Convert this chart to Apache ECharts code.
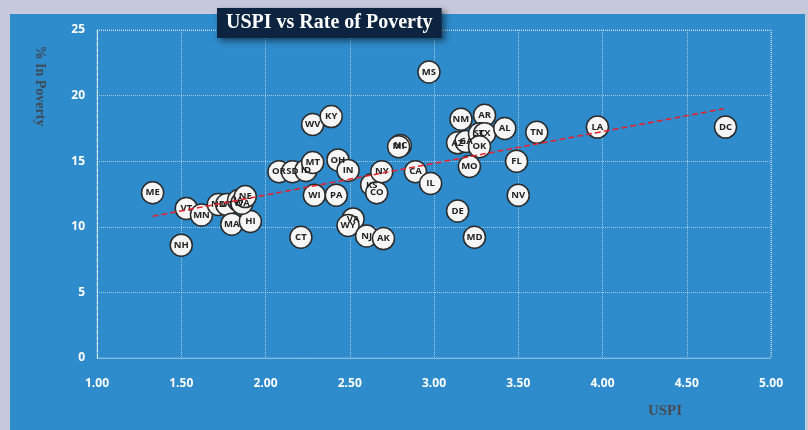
<!DOCTYPE html>
<html>
<head>
<meta charset="utf-8">
<script src="https://cdn.jsdelivr.net/npm/echarts@6/dist/echarts.min.js"></script>
<style>
  html, body { margin: 0; padding: 0; background: #c6c9db; }
  #chart { width: 808px; height: 430px; }
</style>
</head>
<body>
<div id="chart"></div>
<script>
const states  = ['ME', 'VT', 'NH', 'MN', 'ND', 'UT', 'MA', 'HI', 'IA', 'WA', 'NE',
  'OR', 'SD', 'ID', 'MT', 'WV', 'KY', 'OH', 'IN', 'WI', 'PA', 'CT', 'VA', 'WY',
  'NJ', 'AK', 'KS', 'CO', 'NY', 'NC', 'MI', 'CA', 'IL', 'MS', 'NM', 'AR', 'AZ',
  'GA', 'SC', 'TX', 'OK', 'AL', 'TN', 'MO', 'FL', 'NV', 'DE', 'MD', 'LA', 'DC'];
const uspi    = [1.33, 1.53, 1.50, 1.62, 1.72, 1.77, 1.80, 1.91, 1.84, 1.86, 1.88,
  2.08, 2.16, 2.24, 2.28, 2.28, 2.39, 2.43, 2.49, 2.29, 2.42, 2.21, 2.52, 2.49,
  2.60, 2.70, 2.63, 2.66, 2.69, 2.80, 2.79, 2.89, 2.98, 2.97, 3.16, 3.30, 3.14,
  3.19, 3.27, 3.30, 3.27, 3.42, 3.61, 3.21, 3.49, 3.50, 3.14, 3.24, 3.97, 4.73];
const poverty = [12.6, 11.4, 8.6, 10.9, 11.7, 11.7, 10.2, 10.4, 12.0, 11.8, 12.3,
  14.2, 14.2, 14.3, 14.9, 17.8, 18.4, 15.1, 14.3, 12.4, 12.4, 9.2, 10.6, 10.1,
  9.3, 9.1, 13.2, 12.6, 14.2, 16.2, 16.1, 14.2, 13.3, 21.8, 18.2, 18.5, 16.4,
  16.5, 17.1, 17.1, 16.1, 17.5, 17.2, 14.6, 15.0, 12.4, 11.2, 9.2, 17.6, 17.6];
const trendX  = [1.33, 4.72];
const trendY  = [10.8, 19.0];
const xTicks  = [1, 5, 0.5];
const yTicks  = [0, 25, 5];

let myChart = echarts.init(document.getElementById('chart'));

let points = states.map((s, i) => ({ name: s, value: [uspi[i], poverty[i]] }));

let option = {
  animation: false,
  backgroundColor: '#c6c9db',
  title: {
    text: 'USPI vs Rate of Poverty',
    left: 217,
    top: 8,
    padding: [5, 9, 5, 9],
    backgroundColor: '#0c2440',
    shadowColor: 'rgba(0,0,0,0.5)',
    shadowBlur: 6,
    shadowOffsetX: 3,
    shadowOffsetY: 3,
    textStyle: {
      color: '#ffffff',
      fontFamily: 'Liberation Serif',
      fontWeight: 'bold',
      fontSize: 20
    },
    z: 10
  },
  graphic: [
    {
      type: 'rect',
      shape: { x: 10, y: 14, width: 795, height: 420 },
      style: { fill: '#2e8bcc' },
      z: -10
    },
    {
      type: 'text',
      x: 40,
      y: 86,
      rotation: -Math.PI / 2,
      style: {
        text: '% In Poverty',
        fill: '#3f4a57',
        font: 'bold 14px "Liberation Serif"',
        align: 'center',
        verticalAlign: 'middle'
      }
    },
    {
      type: 'text',
      x: 665,
      y: 411,
      style: {
        text: 'USPI',
        fill: '#474b52',
        font: 'bold 15px "Liberation Serif"',
        align: 'center',
        verticalAlign: 'middle'
      }
    }
  ],
  grid: {
    left: 97,
    right: 37,
    top: 30,
    bottom: 72,
    show: true,
    borderColor: 'rgba(255,255,255,0.6)',
    borderWidth: 1,
    borderType: 'dotted'
  },
  xAxis: {
    type: 'value',
    min: xTicks[0],
    max: xTicks[1],
    interval: xTicks[2],
    axisLine: { show: false },
    axisTick: { show: false },
    axisLabel: {
      color: '#ffffff',
      fontFamily: 'Open Sans',
      fontWeight: 'bold',
      fontSize: 12,
      margin: 20,
      formatter: v => v.toFixed(2)
    },
    splitLine: {
      lineStyle: { color: 'rgba(255,255,255,0.55)', type: 'dotted' }
    }
  },
  yAxis: {
    type: 'value',
    min: yTicks[0],
    max: yTicks[1],
    interval: yTicks[2],
    axisLine: {
      show: true,
      lineStyle: { color: 'rgba(255,255,255,0.75)', type: 'dashed' }
    },
    axisTick: { show: false },
    axisLabel: {
      color: '#ffffff',
      fontFamily: 'Open Sans',
      fontWeight: 'bold',
      fontSize: 12,
      margin: 12
    },
    splitLine: {
      lineStyle: { color: 'rgba(255,255,255,0.55)', type: 'dotted' }
    }
  },
  series: [
    {
      name: 'states',
      type: 'scatter',
      data: points,
      symbolSize: 22,
      itemStyle: {
        color: '#f6f6f6',
        opacity: 1,
        borderColor: '#2a2a2a',
        borderWidth: 1.5
      },
      label: {
        show: true,
        position: 'inside',
        formatter: p => p.name,
        color: '#222222',
        fontFamily: 'Open Sans',
        fontWeight: 'bold',
        fontSize: 9.5
      },
      z: 2
    },
    {
      name: 'trend',
      type: 'line',
      data: trendX.map((x, i) => [x, trendY[i]]),
      symbol: 'none',
      lineStyle: { color: '#e8202a', width: 1.5, type: 'dashed' },
      z: 5
    }
  ]
};
myChart.setOption(option);
</script>
</body>
</html>
